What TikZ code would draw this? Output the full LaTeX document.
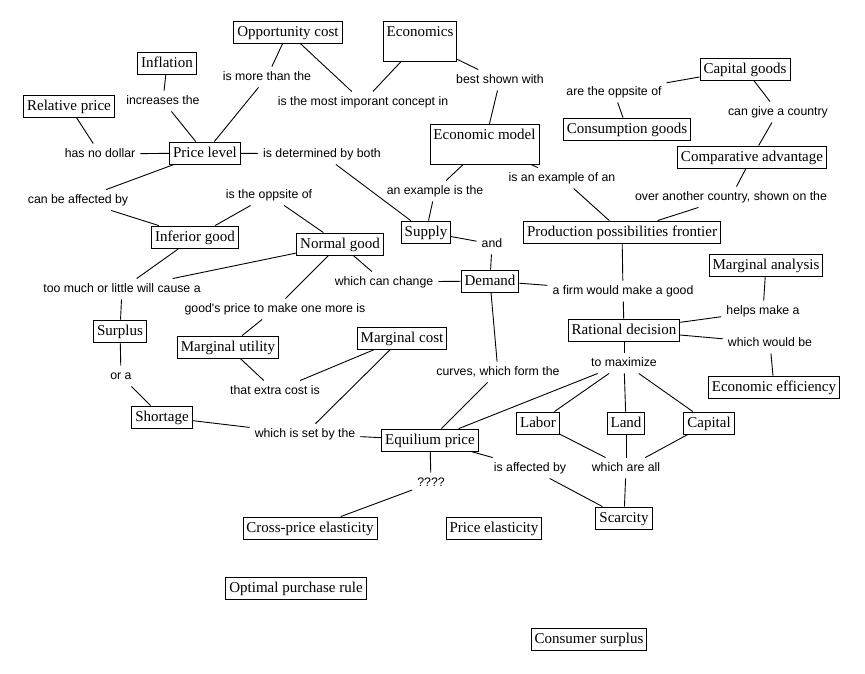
\documentclass[tikz,border=0pt]{standalone}
\usepackage{fontspec}
\setmainfont{Liberation Serif}
\newfontfamily\labfont{Liberation Sans}
\begin{document}
\begin{tikzpicture}[x=1pt,y=-1pt,
  concept/.style={draw, line width=0.9pt, inner xsep=3.5pt, inner ysep=3.5pt,
    font=\fontsize{15}{17}\selectfont, text height=11.5pt, text depth=3.5pt},
  tallconcept/.style={concept, text depth=21.5pt, anchor=north},
  linklab/.style={inner xsep=5pt, inner ysep=4pt, font=\labfont\fontsize{12.3}{14}\selectfont,
    text height=10pt, text depth=2.5pt},
  conn/.style={line width=0.9pt}]
\fill[white] (0,0) rectangle (865,673);
\useasboundingbox (0,0) rectangle (865,673);

% concepts
\node[concept] (oc) at (288,32) {Opportunity cost};
\node[tallconcept] (econ) at (420,21) {Economics};
\node[concept] (infl) at (167,63) {Inflation};
\node[concept] (relp) at (69,106) {Relative price};
\node[concept] (plev) at (205,153) {Price level};
\node[concept] (capg) at (745,69) {Capital goods};
\node[concept] (cons) at (627,129) {Consumption goods};
\node[concept] (comp) at (752,157) {Comparative advantage};
\node[tallconcept] (emod) at (484.5,124) {Economic model};
\node[concept] (ppf) at (622,232) {Production possibilities frontier};
\node[concept] (inf) at (195,237) {Inferior good};
\node[concept] (norm) at (340,244) {Normal good};
\node[concept] (sup) at (426,232) {Supply};
\node[concept] (dem) at (490,281) {Demand};
\node[concept] (marga) at (766,265) {Marginal analysis};
\node[concept] (rat) at (624,330) {Rational decision};
\node[concept] (eff) at (774,387) {Economic efficiency};
\node[concept] (surp) at (120,331) {Surplus};
\node[concept] (mu) at (228,347) {Marginal utility};
\node[concept] (mc) at (402,338) {Marginal cost};
\node[concept] (short) at (162,417) {Shortage};
\node[concept] (eq) at (430,440) {Equilium price};
\node[concept] (labor) at (538,423) {Labor};
\node[concept] (land) at (626,423) {Land};
\node[concept] (capital) at (709,423) {Capital};
\node[concept] (scar) at (624,518) {Scarcity};
\node[concept] (cross) at (310,528) {Cross-price elasticity};
\node[concept] (pel) at (494,528) {Price elasticity};
\node[concept] (opt) at (296,588) {Optimal purchase rule};
\node[concept] (csur) at (589,639) {Consumer surplus};

% linking phrases
\node[linklab] (l1) at (267,77) {is more than the};
\node[linklab] (l2) at (363,102) {is the most imporant concept in};
\node[linklab] (l3) at (500,80) {best shown with};
\node[linklab] (l4) at (163,101) {increases the};
\node[linklab] (l5) at (100,154) {has no dollar};
\node[linklab] (l6) at (322,154) {is determined by both};
\node[linklab] (l7) at (614,92) {are the oppsite of};
\node[linklab] (l8) at (778,112) {can give a country};
\node[linklab] (l9) at (562,178) {is an example of an};
\node[linklab] (l10) at (731,197) {over another country, shown on the};
\node[linklab] (l11) at (78,200) {can be affected by};
\node[linklab] (l12) at (269,195) {is the oppsite of};
\node[linklab] (l13) at (435,191) {an example is the};
\node[linklab] (l14) at (492,244) {and};
\node[linklab] (l15) at (122,289) {too much or little will cause a};
\node[linklab] (l16) at (384,282) {which can change};
\node[linklab] (l17) at (623,291) {a firm would make a good};
\node[linklab] (l18) at (275,309) {good's price to make one more is};
\node[linklab] (l19) at (763,311) {helps make a};
\node[linklab] (l20) at (770,343) {which would be};
\node[linklab] (l21) at (121,376) {or a};
\node[linklab] (l22) at (275,391) {that extra cost is};
\node[linklab] (l23) at (498,372) {curves, which form the};
\node[linklab] (l24) at (624,363) {to maximize};
\node[linklab] (l25) at (305,434) {which is set by the};
\node[linklab] (l26) at (530,468) {is affected by};
\node[linklab] (l27) at (626,468) {which are all};
\node[linklab] (l28) at (431,483) {????};

% connectors
\draw[conn] (oc) -- (l1);
\draw[conn] (l1) -- (plev);
\draw[conn] (oc) -- (l2);
\draw[conn] (econ) -- (l2);
\draw[conn] (econ) -- (l3);
\draw[conn] (l3) -- (emod);
\draw[conn] (infl) -- (l4);
\draw[conn] (l4) -- (plev);
\draw[conn] (relp) -- (l5);
\draw[conn] (l5) -- (plev);
\draw[conn] (plev) -- (l6);
\draw[conn] (l6) -- (sup);
\draw[conn] (capg) -- (l7);
\draw[conn] (l7) -- (cons);
\draw[conn] (capg) -- (l8);
\draw[conn] (l8) -- (comp);
\draw[conn] (comp) -- (l10);
\draw[conn] (l10) -- (ppf);
\draw[conn] (emod) -- (l13);
\draw[conn] (l13) -- (sup);
\draw[conn] (emod) -- (l9);
\draw[conn] (l9) -- (ppf);
\draw[conn] (plev) -- (l11);
\draw[conn] (l11) -- (inf);
\draw[conn] (inf) -- (l12);
\draw[conn] (l12) -- (norm);
\draw[conn] (inf) -- (l15);
\draw[conn] (norm) -- (l15);
\draw[conn] (norm) -- (l16);
\draw[conn] (l16) -- (dem);
\draw[conn] (norm) -- (l18);
\draw[conn] (l18) -- (mu);
\draw[conn] (mu) -- (l22);
\draw[conn] (mc) -- (l22);
\draw[conn] (l15) -- (surp);
\draw[conn] (surp) -- (l21);
\draw[conn] (l21) -- (short);
\draw[conn] (short) -- (l25);
\draw[conn] (l25) -- (eq);
\draw[conn] (mc) -- (l25);
\draw[conn] (sup) -- (l14);
\draw[conn] (l14) -- (dem);
\draw[conn] (dem) -- (l17);
\draw[conn] (ppf) -- (l17);
\draw[conn] (l17) -- (rat);
\draw[conn] (marga) -- (l19);
\draw[conn] (l19) -- (rat);
\draw[conn] (rat) -- (l20);
\draw[conn] (l20) -- (eff);
\draw[conn] (rat) -- (l24);
\draw[conn] (l24) -- (labor);
\draw[conn] (l24) -- (land);
\draw[conn] (l24) -- (capital);
\draw[conn] (l24) -- (eq);
\draw[conn] (dem) -- (l23);
\draw[conn] (l23) -- (eq);
\draw[conn] (labor) -- (l27);
\draw[conn] (land) -- (l27);
\draw[conn] (capital) -- (l27);
\draw[conn] (l27) -- (scar);
\draw[conn] (eq) -- (l26);
\draw[conn] (l26) -- (scar);
\draw[conn] (eq) -- (l28);
\draw[conn] (l28) -- (cross);
\end{tikzpicture}
\end{document}
